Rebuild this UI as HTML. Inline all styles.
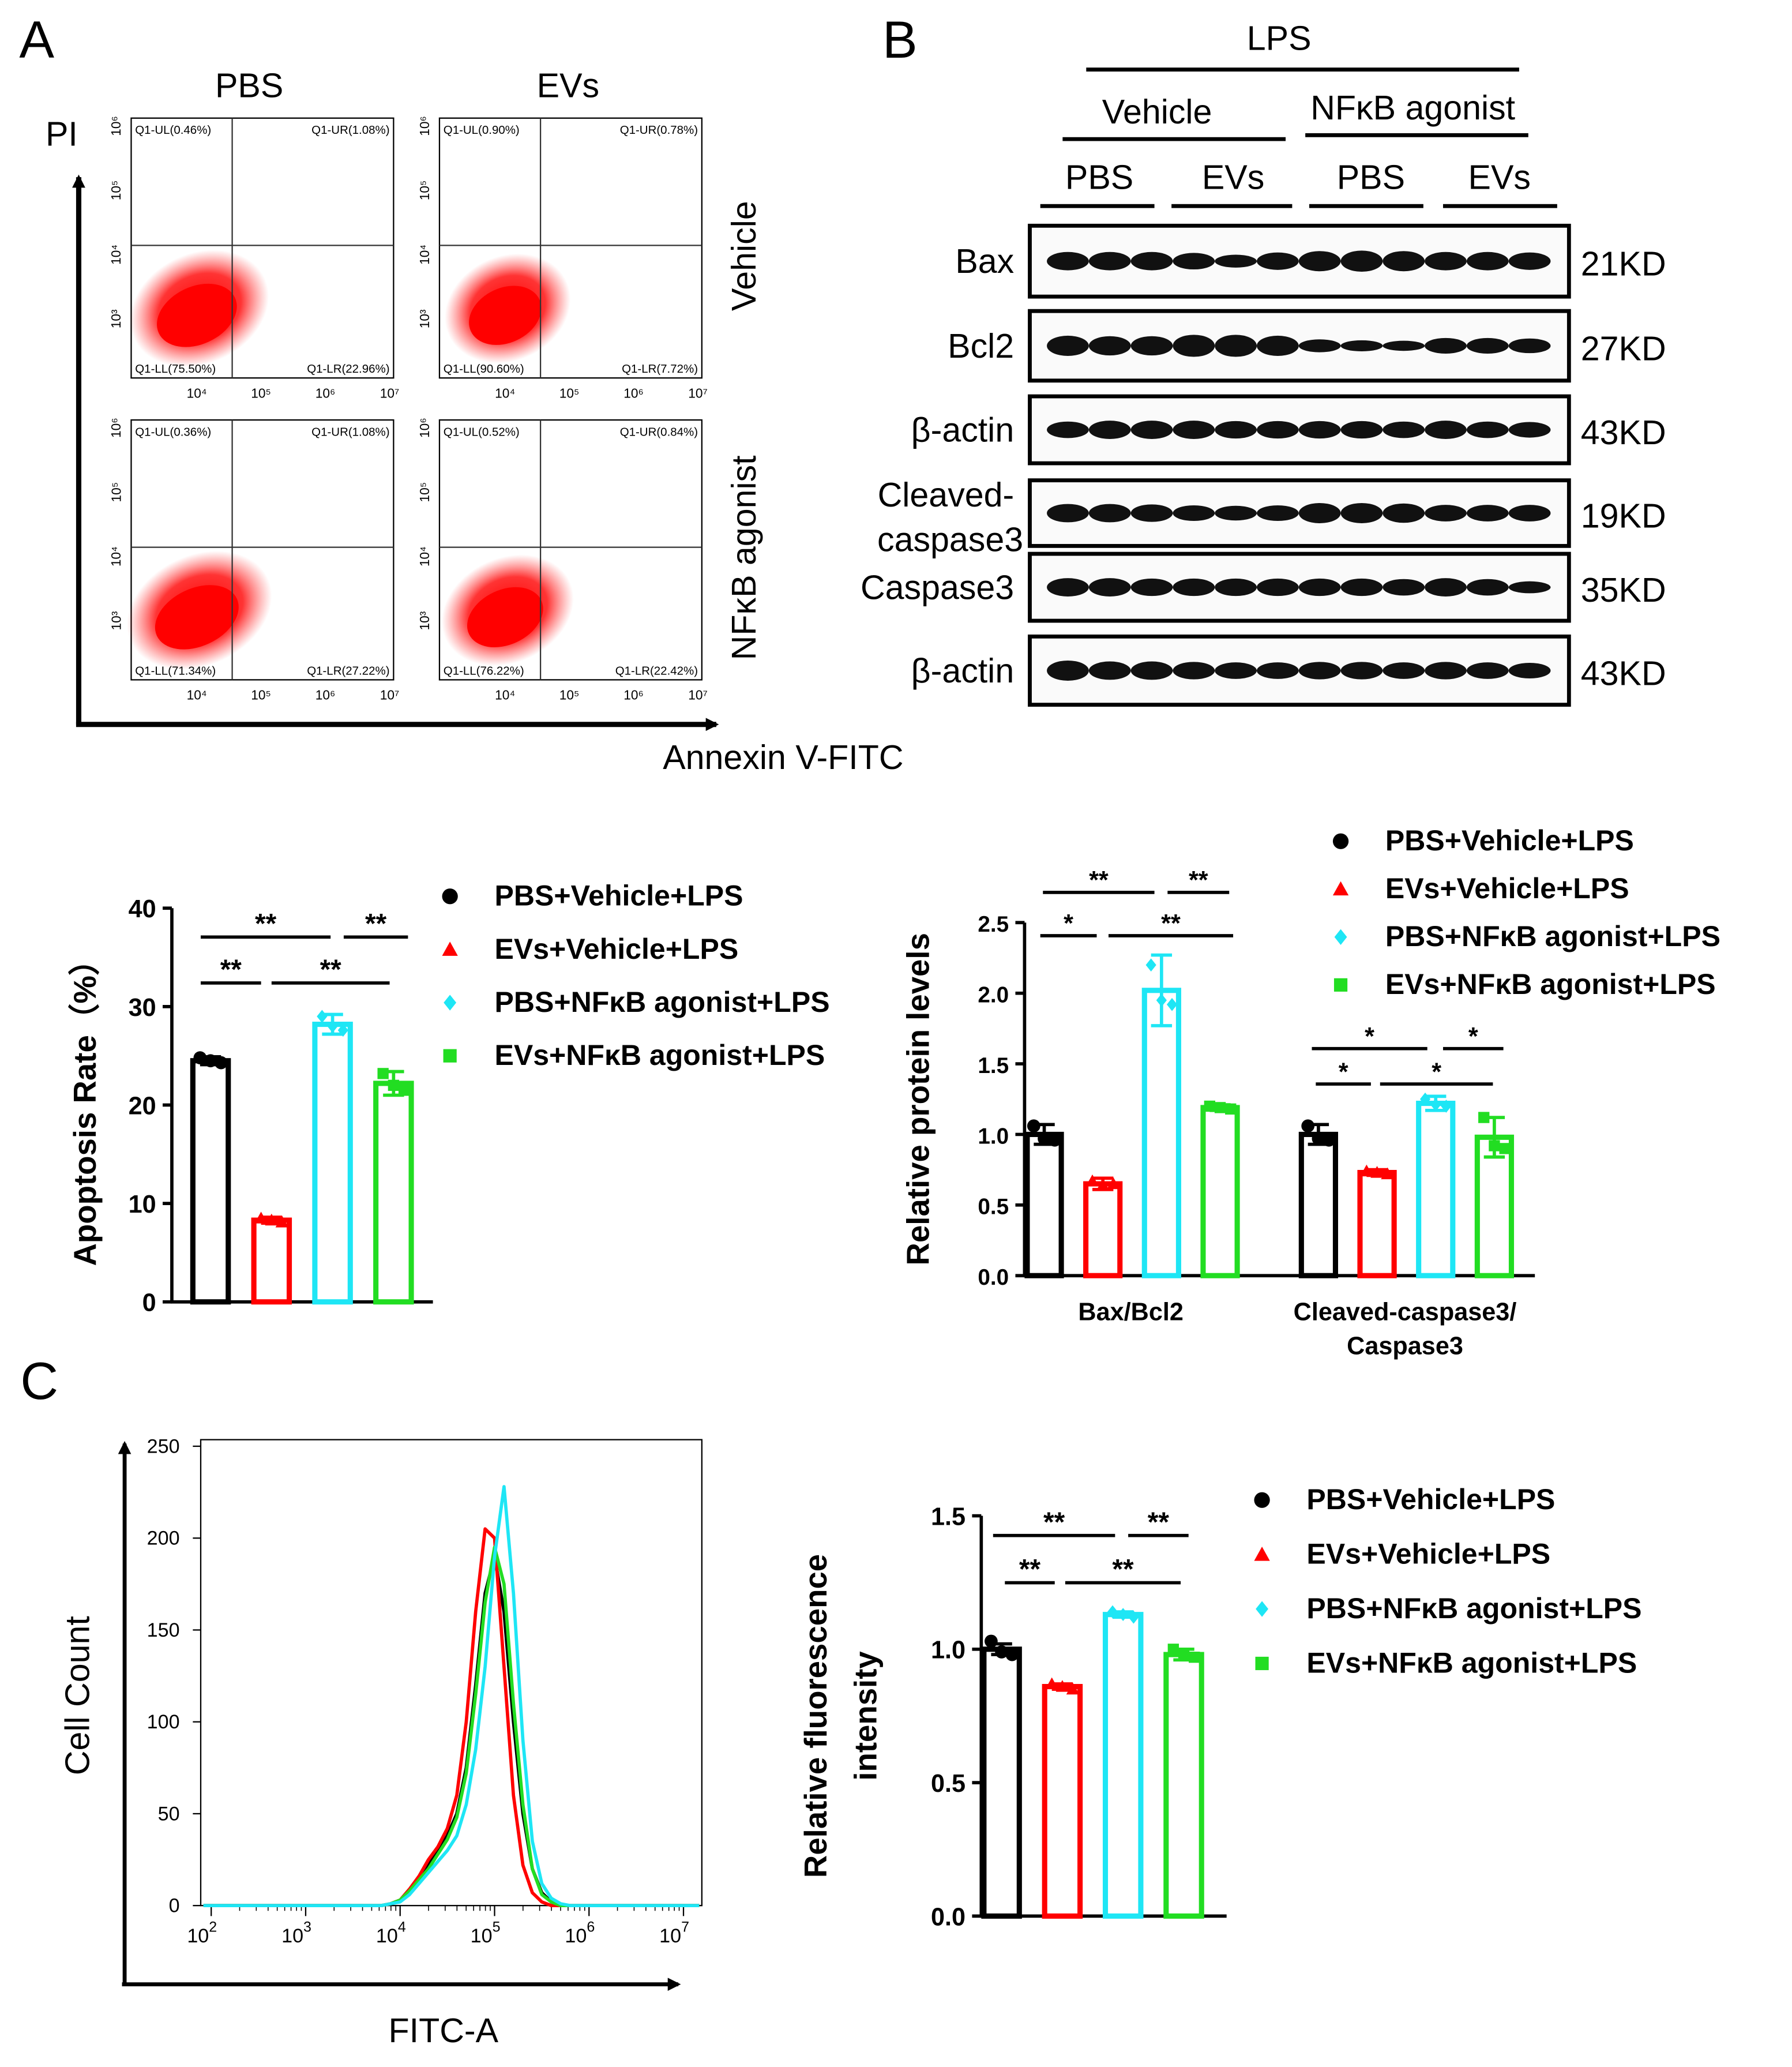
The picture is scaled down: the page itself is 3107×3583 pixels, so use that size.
<!DOCTYPE html>
<html><head><meta charset="utf-8"><style>
html,body{margin:0;padding:0;background:#fff}
svg{display:block}
text{font-family:"Liberation Sans",Arial,sans-serif}
.b{font-weight:bold}
</style></head><body>
<svg id="fig" width="3107" height="3583" viewBox="0 0 1366 1575" preserveAspectRatio="none" xmlns="http://www.w3.org/2000/svg">
<defs>
<radialGradient id="cloud" cx="50%" cy="50%" r="50%">
<stop offset="0%" stop-color="#ff0000" stop-opacity="1"/>
<stop offset="60%" stop-color="#ff1010" stop-opacity="0.85"/>
<stop offset="100%" stop-color="#ff4040" stop-opacity="0"/>
</radialGradient>
<marker id="arr" markerWidth="10" markerHeight="10" refX="8" refY="5" orient="auto" markerUnits="userSpaceOnUse"><path d="M0,0 L10,5 L0,10 z" fill="#000"/></marker>
</defs>
<g id="root"></g>
</svg>
<script>
// ---------- DATA ----------
const groupNames = ["PBS+Vehicle+LPS","EVs+Vehicle+LPS","PBS+NF\u03baB agonist+LPS","EVs+NF\u03baB agonist+LPS"];
const apopMeans = [24.5, 8.3, 28.2, 22.2];
const apopErr = [0.4, 0.3, 1.0, 1.2];
const apopPts = [[24.8,24.5,24.3],[8.5,8.3,8.1],[29.0,28.0,27.6],[23.2,22.0,21.5]];
const apopTicks = [0,10,20,30,40];
const protCats = ["Bax/Bcl2","Cleaved-caspase3/Caspase3"];
const protMeansBax = [1.0, 0.65, 2.02, 1.19];
const protMeansCas = [1.0, 0.73, 1.22, 0.98];
const protErrBax = [0.07, 0.04, 0.25, 0.02];
const protErrCas = [0.07, 0.02, 0.05, 0.14];
const protPtsBax = [[1.06,0.97,0.96],[0.67,0.64,0.65],[2.2,1.95,1.92],[1.2,1.19,1.18]];
const protPtsCas = [[1.06,0.97,0.96],[0.74,0.73,0.72],[1.25,1.21,1.2],[1.12,0.92,0.9]];
const protTicks = [0.0,0.5,1.0,1.5,2.0,2.5];
const fluorMeans = [1.0, 0.86, 1.13, 0.98];
const fluorErr = [0.02, 0.01, 0.01, 0.02];
const fluorPts = [[1.03,0.99,0.98],[0.87,0.86,0.85],[1.14,1.13,1.12],[1.0,0.98,0.97]];
const fluorTicks = [0.0,0.5,1.0,1.5];
const histBins = [3.5,3.6,3.7,3.8,3.9,4.0,4.1,4.2,4.3,4.4,4.5,4.6,4.7,4.8,4.9,5.0,5.1,5.2,5.3,5.4,5.5,5.6,5.7,5.8,5.9,6.0];
const histBlack = [0,0,0,0,1,3,8,15,22,30,38,50,75,120,170,190,160,100,50,20,7,2,0,0,0,0];
const histRed   = [0,0,0,0,1,3,9,16,25,32,42,60,100,160,205,200,130,60,22,7,2,0,0,0,0,0];
const histCyan  = [0,0,0,0,1,2,6,12,18,24,30,38,55,85,130,190,228,170,90,35,12,4,1,0,0,0];
const histGreen = [0,0,0,0,1,3,8,14,20,28,36,48,72,115,165,195,175,110,55,20,6,2,0,0,0,0];
const histYTicks = [0,50,100,150,200,250];
const histXTicks = [2,3,4,5,6,7];
const quadLabels = [["Q1-UL(0.46%)","Q1-UR(1.08%)","Q1-LL(75.50%)","Q1-LR(22.96%)"],["Q1-UL(0.90%)","Q1-UR(0.78%)","Q1-LL(90.60%)","Q1-LR(7.72%)"],["Q1-UL(0.36%)","Q1-UR(1.08%)","Q1-LL(71.34%)","Q1-LR(27.22%)"],["Q1-UL(0.52%)","Q1-UR(0.84%)","Q1-LL(76.22%)","Q1-LR(22.42%)"]];
const colors = ["#000000","#ff0000","#1ee6f5","#22dd22"];

// ---------- HELPERS ----------
const NS="http://www.w3.org/2000/svg";
const root=document.getElementById('root');
function el(tag,attrs,parent,txt){const e=document.createElementNS(NS,tag);for(const k in attrs)e.setAttribute(k,attrs[k]);if(txt!==undefined)e.textContent=txt;(parent||root).appendChild(e);return e;}
function T(x,y,s,size,opt,parent){opt=opt||{};const a={x:x,y:y,'font-size':size,fill:opt.fill||'#000','text-anchor':opt.anchor||'middle'};if(opt.bold)a['font-weight']='bold';if(opt.rot)a.transform='rotate('+opt.rot+' '+x+' '+y+')';const t=el('text',a,parent,s);return t;}
function marker(i,x,y,r,parent){let m;
 if(i===0)m=el('circle',{cx:x,cy:y,r:r,fill:colors[0]},parent);
 else if(i===1)m=el('path',{d:`M${x},${y-r} L${x+r},${y+r*0.8} L${x-r},${y+r*0.8}Z`,fill:colors[1]},parent);
 else if(i===2)m=el('path',{d:`M${x},${y-r} L${x+r*0.8},${y} L${x},${y+r} L${x-r*0.8},${y}Z`,fill:colors[2]},parent);
 else m=el('rect',{x:x-r*0.85,y:y-r*0.85,width:r*1.7,height:r*1.7,fill:colors[3]},parent);
 return m;}

// ---------- PANEL A ----------
const gA=el('g',{});


T(28,44,'A',40,{},gA);
T(190,74,'PBS',26,{},gA);T(433,74,'EVs',26,{},gA);
T(47,111,'PI',26,{},gA);
el('line',{x1:60,y1:552,x2:60,y2:135,stroke:'#000','stroke-width':4,'marker-end':'url(#arr)'},gA);
el('line',{x1:58,y1:552,x2:546,y2:552,stroke:'#000','stroke-width':4,'marker-end':'url(#arr)'},gA);
T(597,586,'Annexin V-FITC',26,{},gA);
T(576,195,'Vehicle',26,{rot:-90},gA);
T(576,425,'NF\u03baB agonist',26,{rot:-90},gA);
const plots=[[100,90],[335,90],[100,320],[335,320]];
const cloudScale=[[1,1],[0.9,0.95],[1.05,1],[0.95,0.95]];
plots.forEach((p,k)=>{
 const g=el('g',{},gA);
 
 
 const [x,y]=p,w=200,h=198;
 el('rect',{x:x,y:y,width:w,height:h,fill:'#fff',stroke:'#000','stroke-width':1},g);
 const cx=x+52,cy=y+145,s=cloudScale[k];
 el('ellipse',{cx:cx,cy:cy,rx:55*s[0],ry:42*s[1],fill:'url(#cloud)',transform:`rotate(-25 ${cx} ${cy})`},g);
 el('ellipse',{cx:cx-4,cy:cy+4,rx:32*s[0],ry:22*s[1],fill:'#ff0000',transform:`rotate(-25 ${cx} ${cy})`},g);
 el('line',{x1:x+77,y1:y,x2:x+77,y2:y+h,stroke:'#333','stroke-width':1},g);
 el('line',{x1:x,y1:y+97,x2:x+w,y2:y+97,stroke:'#333','stroke-width':1},g);
 const q=quadLabels[k];
 T(x+3,y+12,q[0],9,{anchor:'start'},g);T(x+w-3,y+12,q[1],9,{anchor:'end'},g);
 T(x+3,y+h-4,q[2],9,{anchor:'start'},g);T(x+w-3,y+h-4,q[3],9,{anchor:'end'},g);
 ['10\u2074','10\u2075','10\u2076','10\u2077'].forEach((l,i)=>{T(x+50+i*49,y+h+15,l,10,{},g);});
 ['10\u00B3','10\u2074','10\u2075','10\u2076'].forEach((l,i)=>{T(x-8,y+h-45-i*49,l,10,{rot:-90},g);});
});

// ---------- PANEL B (blots) ----------
const gB=el('g',{});


T(686,44,'B',40,{},gB);
T(975,38,'LPS',26,{},gB);el('line',{x1:828,y1:53,x2:1158,y2:53,stroke:'#000','stroke-width':3},gB);
T(882,94,'Vehicle',26,{},gB);el('line',{x1:810,y1:106,x2:980,y2:106,stroke:'#000','stroke-width':3},gB);
T(1077,91,'NF\u03baB agonist',26,{},gB);el('line',{x1:995,y1:103,x2:1165,y2:103,stroke:'#000','stroke-width':3},gB);
[[838,793,880,'PBS'],[940,893,985,'EVs'],[1045,998,1085,'PBS'],[1143,1100,1187,'EVs']].forEach(a=>{T(a[0],144,a[3],26,{},gB);el('line',{x1:a[1],y1:157,x2:a[2],y2:157,stroke:'#000','stroke-width':3},gB);});
const blots=[[172,226,'Bax','21KD',[1,1,1,0.9,0.7,0.95,1.1,1.15,1.1,1,1,0.95]],[237,290,'Bcl2','27KD',[1.1,1.05,1.05,1.2,1.2,1.1,0.7,0.6,0.55,0.85,0.85,0.8]],[302,353,'\u03b2-actin','43KD',[0.9,1,1,1,0.95,0.95,0.95,0.95,0.9,1,0.9,0.85]],[366,416,'','19KD',[1,1,0.95,0.85,0.8,0.85,1.1,1.1,1.05,0.9,0.9,0.9]],[422,473,'Caspase3','35KD',[1,1,0.95,0.95,0.95,0.95,0.95,0.95,0.9,1,0.9,0.65]],[485,537,'\u03b2-actin','43KD',[1.1,1,1,0.95,0.9,0.9,0.95,0.95,0.9,0.95,0.9,0.85]]];
blots.forEach((b,k)=>{
 const g=el('g',{},gB);
 
 
 el('rect',{x:785,y:b[0],width:411,height:b[1]-b[0],fill:'#fafafa',stroke:'#000','stroke-width':3},g);
 const cy=(b[0]+b[1])/2;
 b[4].forEach((v,i)=>{el('ellipse',{cx:814+i*32,cy:cy,rx:16,ry:7*v,fill:'#111'},g);});
 if(b[2])T(773,cy+9,b[2],26,{anchor:'end'},g);
 T(1205,cy+11,b[3],26,{anchor:'start'},g);
});
T(773,386,'Cleaved-',26,{anchor:'end'},gB);T(780,420,'caspase3',26,{anchor:'end'},gB);

// ---------- BAR CHART FUNCTION ----------
function barChart(o){
 const g=el('g',{});
 
 
 const Y=v=>o.y0-(v-o.ymin)/(o.ymax-o.ymin)*(o.y0-o.y1);
 el('line',{x1:o.x0,y1:o.y0,x2:o.x0,y2:o.y1,stroke:'#000','stroke-width':2.5},g);
 el('line',{x1:o.x0-1,y1:o.y0,x2:o.xEnd,y2:o.y0,stroke:'#000','stroke-width':2.5},g);
 o.ticks.forEach(t=>{el('line',{x1:o.x0-7,y1:Y(t),x2:o.x0,y2:Y(t),stroke:'#000','stroke-width':2.5},g);T(o.x0-12,Y(t)+7,o.fmt(t),o.tick,{anchor:'end',bold:1},g);});
 o.groups.forEach((gr,gi)=>{
  gr.means.forEach((m,i)=>{
   const bx=gr.start+i*o.step, cx=bx+o.bw/2;
   const r=el('rect',{x:bx,y:Y(m),width:o.bw,height:o.y0-Y(m),fill:'#fff',stroke:colors[i],'stroke-width':4},g);
   
   
   const e=gr.err[i];
   el('line',{x1:cx,y1:Y(m-e),x2:cx,y2:Y(m+e),stroke:colors[i],'stroke-width':2.5},g);
   el('line',{x1:cx-8,y1:Y(m+e),x2:cx+8,y2:Y(m+e),stroke:colors[i],'stroke-width':2.5},g);
   el('line',{x1:cx-8,y1:Y(m-e),x2:cx+8,y2:Y(m-e),stroke:colors[i],'stroke-width':2.5},g);
   gr.pts[i].forEach((p,j)=>marker(i,cx-8+j*8,Y(p),5,g));
  });
 });
 o.sig.forEach(s=>{el('line',{x1:s[0],y1:s[2],x2:s[1],y2:s[2],stroke:'#000','stroke-width':2.5},g);T((s[0]+s[1])/2,s[2]-3,s[3],o.tick+2,{bold:1},g);});
 const yt=o.title;yt.forEach((l,k)=>T(o.titleX+k*o.titleGap,(o.y0+o.y1)/2+o.titleDy,l,24,{bold:1,rot:-90},g));
 const lg=el('g',{},g);
 
 
 groupNames.forEach((n,i)=>{marker(i,o.legX,o.legY+i*o.legGap-7,6,lg);T(o.legX+34,o.legY+i*o.legGap,n,22,{anchor:'start',bold:1},lg);});
 return g;
}

barChart({name:'apoptosis-rate-chart',x0:131,y0:992,y1:692,ymin:0,ymax:40,xEnd:330,ticks:apopTicks,fmt:t=>String(t),tick:19,
 step:46.5,bw:27,groups:[{start:147,means:apopMeans,err:apopErr,pts:apopPts}],
 sig:[[153,252,714,'**'],[262,311,714,'**'],[153,199,749,'**'],[207,297,749,'**']],
 title:['Apoptosis Rate\uFF08%\uFF09'],titleX:73,titleGap:0,titleDy:0,legX:343,legY:690,legGap:40.5});

barChart({name:'relative-protein-chart',x0:781,y0:972,y1:703,ymin:0,ymax:2.5,xEnd:1170,ticks:protTicks,fmt:t=>t.toFixed(1),tick:17,
 step:44.7,bw:26,groups:[{start:783,means:protMeansBax,err:protErrBax,pts:protPtsBax},{start:992,means:protMeansCas,err:protErrCas,pts:protPtsCas}],
 sig:[[795,880,680,'**'],[890,937,680,'**'],[793,836,713,'*'],[845,940,713,'*'.repeat(2)],[1000,1088,799,'*'],[1100,1146,799,'*'],[1003,1045,826,'*'],[1052,1138,826,'*']],
 title:['Relative protein levels'],titleX:708,titleGap:0,titleDy:0,legX:1022,legY:648,legGap:36.5});
T(862,1006,'Bax/Bcl2',19,{bold:1});
T(1071,1006,'Cleaved-caspase3/',19,{bold:1});T(1071,1032,'Caspase3',19,{bold:1});

barChart({name:'relative-fluorescence-chart',x0:748,y0:1460,y1:1155,ymin:0,ymax:1.5,xEnd:935,ticks:fluorTicks,fmt:t=>t.toFixed(1),tick:19,
 step:46.3,bw:27,groups:[{start:750,means:fluorMeans,err:fluorErr,pts:fluorPts}],
 sig:[[757,850,1170,'**'],[860,906,1170,'**'],[766,804,1206,'**'],[812,900,1206,'**']],
 title:['Relative fluorescence','intensity'],titleX:630,titleGap:38,titleDy:0,legX:962,legY:1150,legGap:41.5});

// ---------- PANEL C histogram ----------
const gC=el('g',{});


T(30,1066,'C',40,{},gC);
const HX=l=>377+(l-5)*72, HY=v=>1452-v*1.4;
el('rect',{x:153,y:1097,width:382,height:355,fill:'none',stroke:'#000','stroke-width':1},gC);
el('line',{x1:95,y1:1512,x2:95,y2:1100,stroke:'#000','stroke-width':3,'marker-end':'url(#arr)'},gC);
el('line',{x1:93,y1:1512,x2:517,y2:1512,stroke:'#000','stroke-width':3,'marker-end':'url(#arr)'},gC);
histYTicks.forEach(t=>{el('line',{x1:147,y1:HY(t),x2:153,y2:HY(t),stroke:'#000'},gC);T(137,HY(t)+5,String(t),15,{anchor:'end'},gC);});
histXTicks.forEach(t=>{el('line',{x1:HX(t),y1:1452,x2:HX(t),y2:1460,stroke:'#000'},gC);
 for(let m=2;m<10&&t<7;m++){const xx=HX(t+Math.log10(m));el('line',{x1:xx,y1:1452,x2:xx,y2:1456,stroke:'#000','stroke-width':0.7},gC);}
 const tx=el('text',{x:HX(t)-7,y:1480,'font-size':15,'text-anchor':'middle'},gC,'10');
 const sup=el('tspan',{dy:-8,'font-size':11},tx,String(t));});
T(68,1292,'Cell Count',26,{rot:-90},gC);
T(338,1556,'FITC-A',26,{},gC);
[[histBlack,0],[histRed,1],[histGreen,3],[histCyan,2]].forEach(([arr,ci])=>{
 let d=`M155,${HY(0)} L${HX(histBins[0])},${HY(0)}`;
 arr.forEach((v,i)=>{d+=` L${HX(histBins[i]).toFixed(1)},${HY(v).toFixed(1)}`;});
 d+=` L533,${HY(0)}`;
 const p=el('path',{d:d,fill:'none',stroke:colors[ci],'stroke-width':2.5,'stroke-linejoin':'round'},gC);
 
 
});
</script>
</body></html>
